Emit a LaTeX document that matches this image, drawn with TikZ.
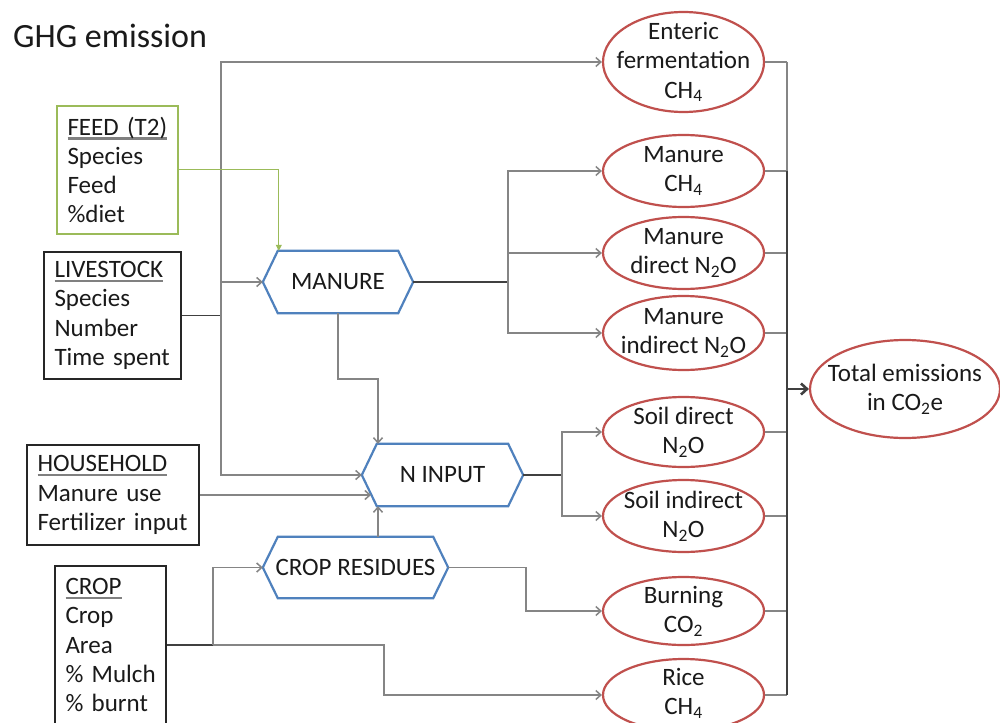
\documentclass[tikz,border=0pt]{standalone}
\usepackage{fontspec}
\setmainfont{Carlito}
\usetikzlibrary{arrows.meta,shapes.geometric,calc}
\definecolor{hexblue}{HTML}{4F81BD}
\definecolor{ellred}{HTML}{C0504D}
\definecolor{feedgreen}{HTML}{9BBB59}
\definecolor{linegray}{HTML}{858585}
\definecolor{linedark}{HTML}{404040}
\definecolor{txt}{HTML}{1A1A1A}
\newsavebox{\hdrbox}
\newcommand{\hdr}[1]{\sbox{\hdrbox}{#1}\rlap{\raisebox{-4.5pt}{\textcolor{gray}{\rule{\wd\hdrbox}{2.2pt}}}}\usebox{\hdrbox}}
\newcommand{\hexof}[1]{\draw[hexline] (#1.west) -- ([xshift=15pt]#1.north west) -- ([xshift=-15pt]#1.north east) -- (#1.east) -- ([xshift=-15pt]#1.south east) -- ([xshift=15pt]#1.south west) -- cycle;}
\begin{document}
\begin{tikzpicture}[x=1pt,y=-1pt,
  font=\fontsize{25}{29.3}\selectfont, text=txt,
  inbox/.style={draw=black!85, line width=2.8pt, inner xsep=10.5pt, inner ysep=0pt, align=left},
  feedbox/.style={inbox, draw=feedgreen, line width=2.4pt},
  ellnode/.style={ellipse, draw=ellred, line width=2.2pt, minimum width=161pt, inner sep=0pt},
  etext/.style={align=center, inner sep=0pt},
  hexnode/.style={minimum height=62pt, inner sep=0pt},
  hexline/.style={draw=hexblue, line width=2.2pt, line join=miter},
  conn/.style={draw=linegray, line width=1.5pt},
  darkconn/.style={draw=linedark, line width=1.5pt},
  arr/.style={-{Straight Barb[length=5pt,width=9pt]}},
  feedline/.style={draw=feedgreen, line width=1pt, -{Triangle[length=6pt,width=6pt]}},
  bigarrow/.style={draw=linedark, line width=2.6pt, -{Straight Barb[length=6pt,width=11pt]}}
]
\fill[white] (0,0) rectangle (1000,722);
\useasboundingbox (0,0) rectangle (1000,722);

% title
\node[anchor=base west, inner sep=0pt, font=\fontsize{34}{37}\selectfont] (title) at (13,48) {GHG emission};

% input boxes
\node[feedbox, text width=100pt, minimum height=128pt] (feed) at (117.5,170) {\hdr{FEED (T2)}\\Species\\Feed\\\%diet};
\node[inbox, text width=116pt, minimum height=127pt] (liv) at (112.5,315.5) {\hdr{LIVESTOCK}\\Species\\Number\\Time spent};
\node[inbox, text width=151pt, minimum height=100pt] (hh) at (113,495) {\hdr{HOUSEHOLD}\\Manure use\\Fertilizer input};
\node[inbox, text width=90pt, minimum height=158pt] (crop) at (110.5,645) {\hdr{CROP}\\Crop\\Area\\\mbox{\% Mulch}\\\mbox{\% burnt}};

% hexagons
\node[hexnode, minimum width=150pt] (man) at (338,282) {MANURE};
\hexof{man}
\node[hexnode, minimum width=161pt] (nin) at (442.5,475) {N INPUT};
\hexof{nin}
\node[hexnode, minimum width=185pt, minimum height=61pt] (cr) at (355.5,567.5) {CROP RESIDUES};
\hexof{cr}

% ellipses
\node[ellnode, minimum height=100pt] (ent) at (683.5,62) {};
\node[etext] (ent-t) at (ent) {Enteric\\fermentation\\CH\textsubscript{4}};
\node[ellnode, minimum height=72pt] (mch4) at (683.5,171) {};
\node[etext] (mch4-t) at (mch4) {Manure\\CH\textsubscript{4}};
\node[ellnode, minimum height=72pt] (mdn) at (683.5,253) {};
\node[etext] (mdn-t) at (mdn) {Manure\\direct N\textsubscript{2}O};
\node[ellnode, minimum height=74pt] (min) at (683.5,333) {};
\node[etext] (min-t) at (min) {Manure\\indirect N\textsubscript{2}O};
\node[ellnode, minimum height=70pt] (sd) at (683.5,432) {};
\node[etext] (sd-t) at (sd) {Soil direct\\N\textsubscript{2}O};
\node[ellnode, minimum height=72pt] (si) at (683.5,516) {};
\node[etext] (si-t) at (si) {Soil indirect\\N\textsubscript{2}O};
\node[ellnode, minimum height=68pt] (burn) at (683.5,611) {};
\node[etext] (burn-t) at (burn) {Burning\\CO\textsubscript{2}};
\node[ellnode, minimum height=72pt] (rice) at (683.5,695) {};
\node[etext] (rice-t) at ([yshift=1.5pt]rice.center) {Rice\\CH\textsubscript{4}};
\node[ellnode, minimum width=190pt, minimum height=98pt] (tot) at (905,389) {};
\node[etext] (tot-t) at (tot) {Total emissions\\in CO\textsubscript{2}e};

% junction coordinates
\coordinate (j1) at (221,315.5);
\coordinate (j2) at (508,282);
\coordinate (j3) at (378,379);
\coordinate (hin) at (371,495);
\coordinate (j4) at (213,645);
\coordinate (j5) at (384,645);
\coordinate (j6) at (526,567.5);
\coordinate (j7) at (562,475);
\coordinate (c) at (787,389);

% livestock connectors
\draw[darkconn] (liv.east) -- (j1);
\draw[conn,arr] (j1) |- (ent.west);
\draw[conn,arr] (j1) |- (man.west);
\draw[conn,arr] (j1) |- (nin.west);

% feed
\draw[feedline] (feed.east) -| ([xshift=16pt]man.north west);

% manure outputs
\draw[darkconn] (man.east) -- (j2);
\draw[conn,arr] (j2) |- (mch4.west);
\draw[conn,arr] (j2) |- (mdn.west);
\draw[conn,arr] (j2) |- (min.west);
\draw[conn,arr] (man.south) |- (j3) -- (j3 |- nin.north);

% household
\draw[conn,arr] (hh.east) -- (hin);

% crop residues
\draw[conn,arr] (cr.north -| j3) -- (nin.south -| j3);
\draw[darkconn] (crop.east) -- (j4);
\draw[conn,arr] (j4) |- (cr.west);
\draw[conn,arr] (j4) -- (j5) |- (rice.west);
\draw[conn,arr] (cr.east) -- (j6) |- (burn.west);

% N input outputs
\draw[darkconn] (nin.east) -- (j7);
\draw[conn,arr] (j7) |- (sd.west);
\draw[conn,arr] (j7) |- (si.west);

% collector
\foreach \n in {ent,mch4,mdn,min,sd,si,burn,rice}
  \draw[conn] (\n.east) -- (\n.east -| c);
\draw[conn] (ent.east -| c) -- (mch4.east -| c);
\draw[darkconn] (mch4.east -| c) -- (rice.east -| c);
\draw[bigarrow] (c) -- (tot.west);
\end{tikzpicture}
\end{document}
